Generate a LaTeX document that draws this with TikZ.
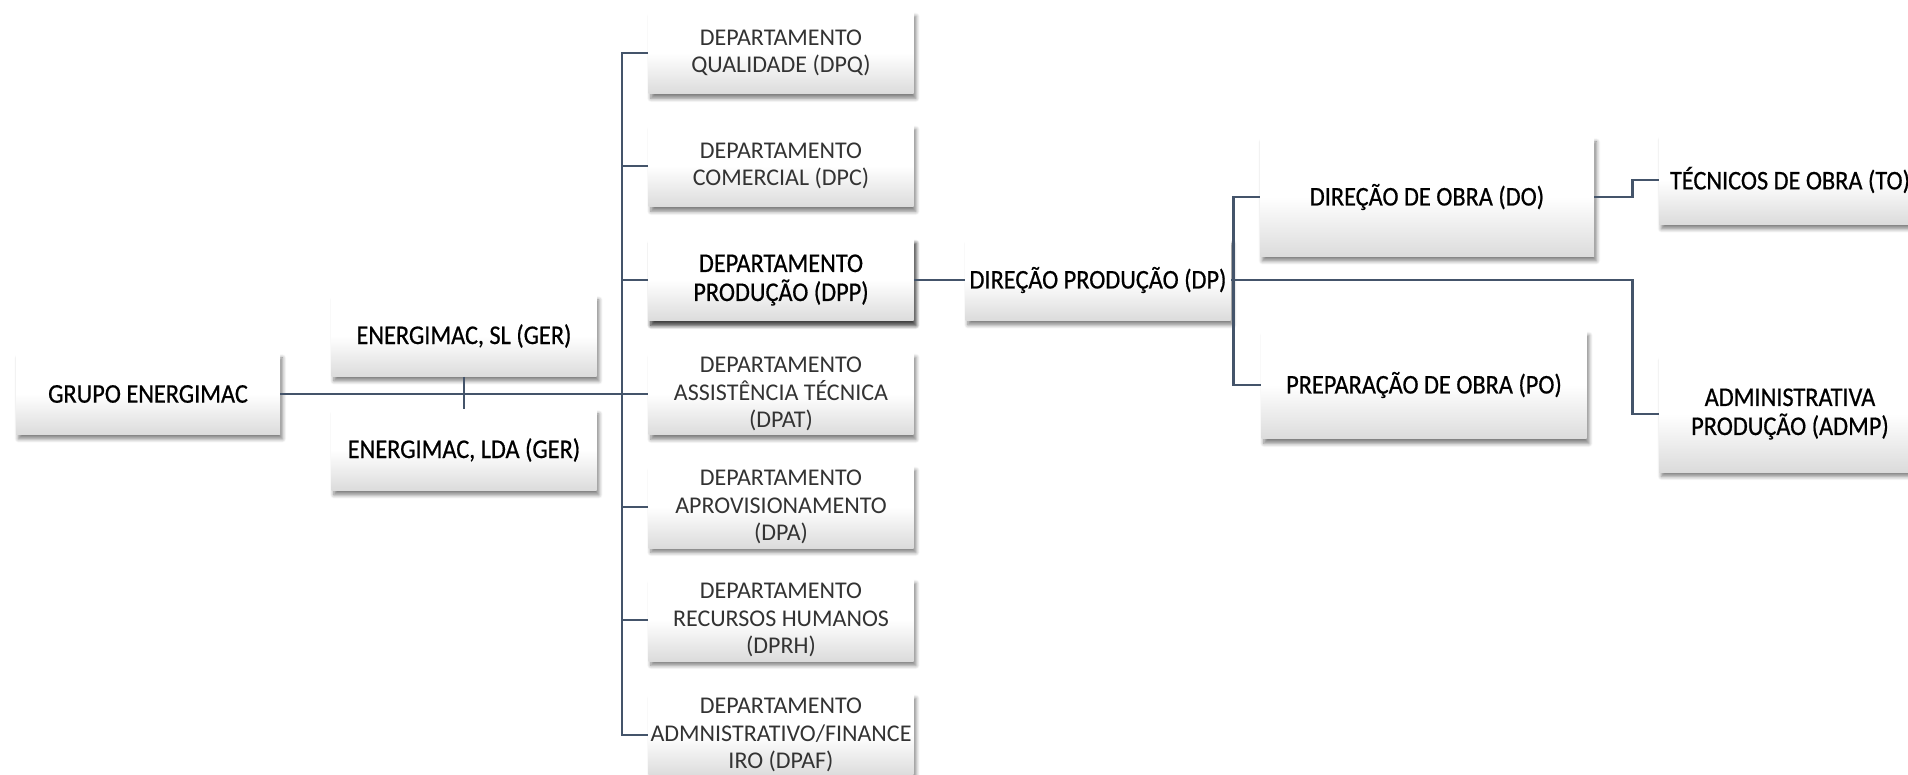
\documentclass[tikz,border=0pt]{standalone}
\usepackage{fontspec}
\setmainfont{Carlito}
\newfontfamily\darkfont[FakeStretch=0.9,FakeBold=0.6]{Carlito}
\usetikzlibrary{positioning}
\usetikzlibrary{shadows.blur}
\usepackage{xcolor}
\definecolor{linkblue}{RGB}{68,84,106}

\tikzset{
  orgbox/.style={rectangle, inner sep=0pt, align=center,
    top color=white, bottom color=black!14, middle color=white,
    blur shadow={shadow xshift=1.2pt, shadow yshift=-2.2pt, shadow blur steps=6, shadow opacity=50}},
  dept/.style={orgbox, minimum width=132.5pt, minimum height=41pt, text=black!80,
    font=\fontsize{12}{13.8}\selectfont},
  chief/.style={orgbox, text=black, font=\darkfont\fontsize{13.5}{14.5}\selectfont},
  link/.style={linkblue, line width=1.35pt},
}

\begin{document}
\begin{tikzpicture}[x=0.5pt,y=-0.5pt]

\useasboundingbox (0,0) rectangle (1908,775);

% group
{
\node[chief, minimum width=132pt, minimum height=40.5pt] (grupo) at (148,394) {GRUPO ENERGIMAC};
\node[chief, minimum width=132.5pt, minimum height=40.5pt] (gersl) at (464,336) {ENERGIMAC, SL (GER)};
\node[chief, minimum width=132.5pt, minimum height=40.5pt] (gerlda) at (464,450) {ENERGIMAC, LDA (GER)};
}

% departments
{
\node[dept] (dpq) at (781,53) {DEPARTAMENTO\\QUALIDADE (DPQ)};
\node[dept] (dpc) at (781,166) {DEPARTAMENTO\\COMERCIAL (DPC)};
\node[dept, chief] (dpp) at (781,280) {DEPARTAMENTO\\PRODUÇÃO (DPP)};
\node[dept] (dpat) at (781,394) {DEPARTAMENTO\\ASSISTÊNCIA TÉCNICA\\(DPAT)};
\node[dept] (dpa) at (781,507) {DEPARTAMENTO\\APROVISIONAMENTO\\(DPA)};
\node[dept] (dprh) at (781,620) {DEPARTAMENTO\\RECURSOS HUMANOS\\(DPRH)};
\node[dept] (dpaf) at (781,735) {DEPARTAMENTO\\ADMNISTRATIVO/FINANCE\\IRO (DPAF)};
}

% production
{
\node[chief, minimum width=132.5pt, minimum height=40.5pt] (dp) at (1098,280) {DIREÇÃO PRODUÇÃO (DP)};
\node[chief, minimum width=167pt, minimum height=59.5pt] (do) at (1427,197) {DIREÇÃO DE OBRA (DO)};
\node[chief, minimum width=162.5pt, minimum height=54pt] (po) at (1424,385) {PREPARAÇÃO DE OBRA (PO)};
\node[chief, minimum width=131pt, minimum height=44.5pt] (to) at (1790,180) {TÉCNICOS DE OBRA (TO)};
\node[chief, minimum width=131pt, minimum height=58pt] (admp) at (1790,414) {ADMINISTRATIVA\\PRODUÇÃO (ADMP)};
}

% lines
\draw[link] (grupo.east) -- (dpat.west);
\draw[link] (gersl.south) -- (gerlda.north);

\draw[link] (dpq.west) -- ++(-26,0) |- (dpaf.west);
\foreach \d in {dpc,dpp,dpa,dprh}
  \draw[link] (\d.west) -- ++(-26,0);

\draw[link] (dpp.east) -- (dp.west);
\draw[link] (do.west) -- ++(-26,0) |- (po.west);
\draw[link] (dp.east) -| ([xshift=-13pt]admp.west) -- (admp.west);
\draw[link] (do.east) -| ([xshift=-13pt]to.west) -- (to.west);

\end{tikzpicture}
\end{document}
